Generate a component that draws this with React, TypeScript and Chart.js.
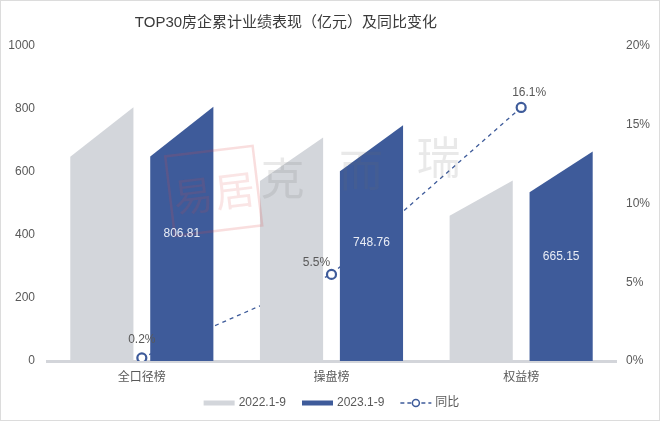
import React, { useEffect, useRef } from 'react';
import { Chart, registerables } from 'chart.js';

Chart.register(...registerables);

// ---- data ----
const categories = ['全口径榜', '操盘榜', '权益榜'];
const series2022 = [805.2, 709.7, 572.9];
const series2023 = [806.81, 748.76, 665.15];
const yoyPercent = [0.2, 5.5, 16.1];
const seriesNames = ['2022.1-9', '2023.1-9', '同比'];
const chartTitle = 'TOP30房企累计业绩表现（亿元）及同比变化';
const leftMax = 1000;
const leftStep = 200;
const rightMax = 20;
const rightStep = 5;
const watermarkChars = ['克', '而', '瑞'];
const sealText = ['易', '居'];

// ---- styles ----
const GRAY = '#d3d6db';
const BLUE = '#3e5b9a';
const TEXT = '#595959';
const FONT = "'Liberation Sans', 'Noto Sans CJK SC', sans-serif";
const SLANT = 0.195;
const yoyLabelDx = [0, -15, 8];
const yoyLabelDy = [-18, -12, -15];

const slantBars = {
  id: 'slantBars',
  beforeDatasetDraw(chart: any, args: any) {
    const meta = args.meta;
    if (meta.type !== 'bar') return;
    const ds = chart.data.datasets[args.index];
    const ctx = chart.ctx;
    ctx.save();
    ctx.fillStyle = ds.backgroundColor;
    meta.data.forEach((bar: any) => {
      const { x, y, base, width } = bar.getProps(['x', 'y', 'base', 'width'], true);
      const l = x - width / 2;
      const r = x + width / 2;
      const cut = (base - y) * SLANT;
      ctx.beginPath();
      ctx.moveTo(l, base);
      ctx.lineTo(l, y + cut);
      ctx.lineTo(r, y);
      ctx.lineTo(r, base);
      ctx.closePath();
      ctx.fill();
    });
    ctx.restore();
    return false;
  },
};

const decorations = {
  id: 'decorations',
  afterDatasetsDraw(chart: any) {
    const ctx = chart.ctx;
    const ca = chart.chartArea;
    const W = ca.right - ca.left;
    const H = ca.bottom - ca.top;
    ctx.save();
    // watermark text
    ctx.font = `44px 'Noto Sans CJK SC', sans-serif`;
    ctx.textAlign = 'center';
    ctx.textBaseline = 'middle';
    ctx.fillStyle = 'rgba(110,110,110,0.15)';
    const wmPos = [
      [0.414, 0.419],
      [0.552, 0.394],
      [0.688, 0.352],
    ];
    watermarkChars.forEach((c, i) => {
      ctx.fillText(c, ca.left + wmPos[i][0] * W, ca.top + wmPos[i][1] * H);
    });
    // seal
    const sx = ca.left + 0.293 * W;
    const sy = ca.top + 0.46 * H;
    ctx.translate(sx, sy);
    ctx.rotate(-0.12);
    ctx.strokeStyle = 'rgba(220,70,70,0.18)';
    ctx.lineWidth = 2.5;
    ctx.strokeRect(-44, -40, 88, 80);
    ctx.fillStyle = 'rgba(220,70,70,0.14)';
    ctx.font = `40px 'Noto Sans CJK SC', sans-serif`;
    ctx.fillText(sealText[0], -21, 2);
    ctx.fillText(sealText[1], 21, 2);
    ctx.restore();

    // data labels
    ctx.save();
    ctx.font = `12px ${FONT}`;
    ctx.textAlign = 'center';
    ctx.textBaseline = 'middle';
    const barMeta = chart.getDatasetMeta(1);
    ctx.fillStyle = '#e8ecf5';
    barMeta.data.forEach((bar: any, i: number) => {
      const { x, y, base } = bar.getProps(['x', 'y', 'base'], true);
      ctx.fillText(series2023[i].toFixed(2), x, (y + base) / 2);
    });
    const lineMeta = chart.getDatasetMeta(2);
    ctx.fillStyle = TEXT;
    lineMeta.data.forEach((pt: any, i: number) => {
      const { x, y } = pt.getProps(['x', 'y'], true);
      ctx.fillText(yoyPercent[i].toFixed(1) + '%', x + yoyLabelDx[i], y + yoyLabelDy[i]);
    });
    ctx.restore();
  },
  afterDraw(chart: any) {
    const ctx = chart.ctx;
    const ca = chart.chartArea;
    ctx.save();
    // title
    ctx.font = `15px ${FONT}`;
    ctx.fillStyle = '#3a3a3a';
    ctx.textAlign = 'center';
    ctx.textBaseline = 'middle';
    ctx.fillText(chartTitle, ca.left + (ca.right - ca.left) * 0.42, 22);

    // legend
    ctx.font = `12px ${FONT}`;
    ctx.textBaseline = 'middle';
    ctx.textAlign = 'left';
    const boxW = 31;
    const gapIcon = 4;
    const gapItem = 16;
    const widths = seriesNames.map((n) => ctx.measureText(n).width);
    const total = widths.reduce((a, b) => a + b, 0) + 3 * (boxW + gapIcon) + 2 * gapItem;
    let x = (ca.left + ca.right) / 2 - total / 2;
    const ly = 402;
    seriesNames.forEach((name, i) => {
      if (i < 2) {
        ctx.fillStyle = i === 0 ? GRAY : BLUE;
        ctx.fillRect(x, ly - 2.5, boxW, 5);
      } else {
        ctx.strokeStyle = BLUE;
        ctx.lineWidth = 1.5;
        ctx.setLineDash([4, 3]);
        ctx.beginPath();
        ctx.moveTo(x, ly);
        ctx.lineTo(x + boxW, ly);
        ctx.stroke();
        ctx.setLineDash([]);
        ctx.beginPath();
        ctx.arc(x + boxW / 2, ly, 3.5, 0, Math.PI * 2);
        ctx.fillStyle = '#fff';
        ctx.fill();
        ctx.lineWidth = 1.5;
        ctx.stroke();
      }
      x += boxW + gapIcon;
      ctx.fillStyle = TEXT;
      ctx.fillText(name, x, ly);
      x += widths[i] + gapItem;
    });
    ctx.restore();
  },
};

export default function App() {
  const ref = useRef<HTMLCanvasElement | null>(null);

  useEffect(() => {
    document.body.style.margin = '0';
    const canvas = ref.current;
    if (!canvas) return;
    const chart = new Chart(canvas, {
      type: 'bar',
      data: {
        labels: categories,
        datasets: [
          {
            label: seriesNames[0],
            data: series2022,
            backgroundColor: GRAY,
            yAxisID: 'y',
            barPercentage: 0.79,
            categoryPercentage: 0.843,
          } as any,
          {
            label: seriesNames[1],
            data: series2023,
            backgroundColor: BLUE,
            yAxisID: 'y',
            barPercentage: 0.79,
            categoryPercentage: 0.843,
          } as any,
          {
            type: 'line',
            label: seriesNames[2],
            data: yoyPercent,
            yAxisID: 'y1',
            borderColor: BLUE,
            borderWidth: 1.3,
            borderDash: [4, 4],
            pointRadius: 4.5,
            pointBorderWidth: 2.2,
            pointBackgroundColor: '#ffffff',
            pointBorderColor: BLUE,
            fill: false,
            tension: 0,
          } as any,
        ],
      },
      options: {
        responsive: false,
        animation: false,
        devicePixelRatio: 1,
        layout: { padding: { top: 45, bottom: 0, left: 0, right: 0 } },
        plugins: {
          legend: { display: false },
          title: { display: false },
          tooltip: { enabled: false },
        },
        scales: {
          x: {
            grid: { display: false, drawTicks: false },
            border: { display: true, color: '#d3d5da', width: 3 },
            ticks: { color: TEXT, font: { size: 12, family: FONT }, padding: 9 },
            afterFit: (s: any) => {
              s.height = 59;
            },
          },
          y: {
            position: 'left',
            min: 0,
            max: leftMax,
            grid: { display: false, drawTicks: false },
            border: { display: false },
            ticks: {
              stepSize: leftStep,
              color: TEXT,
              font: { size: 12, family: FONT },
              padding: 12,
              callback: (v: any) => String(v),
            },
            afterFit: (s: any) => {
              s.width = 46;
            },
          },
          y1: {
            position: 'right',
            min: 0,
            max: rightMax,
            grid: { display: false, drawTicks: false },
            border: { display: false },
            ticks: {
              stepSize: rightStep,
              color: TEXT,
              font: { size: 12, family: FONT },
              padding: 10,
              callback: (v: any) => v + '%',
            },
            afterFit: (s: any) => {
              s.width = 43;
            },
          },
        },
      },
      plugins: [slantBars, decorations],
    });
    return () => chart.destroy();
  }, []);

  return (
    <div
      style={{
        width: 660,
        height: 421,
        boxSizing: 'border-box',
        border: '1px solid #dcdcdc',
        background: '#fff',
      }}
    >
      <canvas ref={ref} width={658} height={419} style={{ display: 'block' }} />
    </div>
  );
}
